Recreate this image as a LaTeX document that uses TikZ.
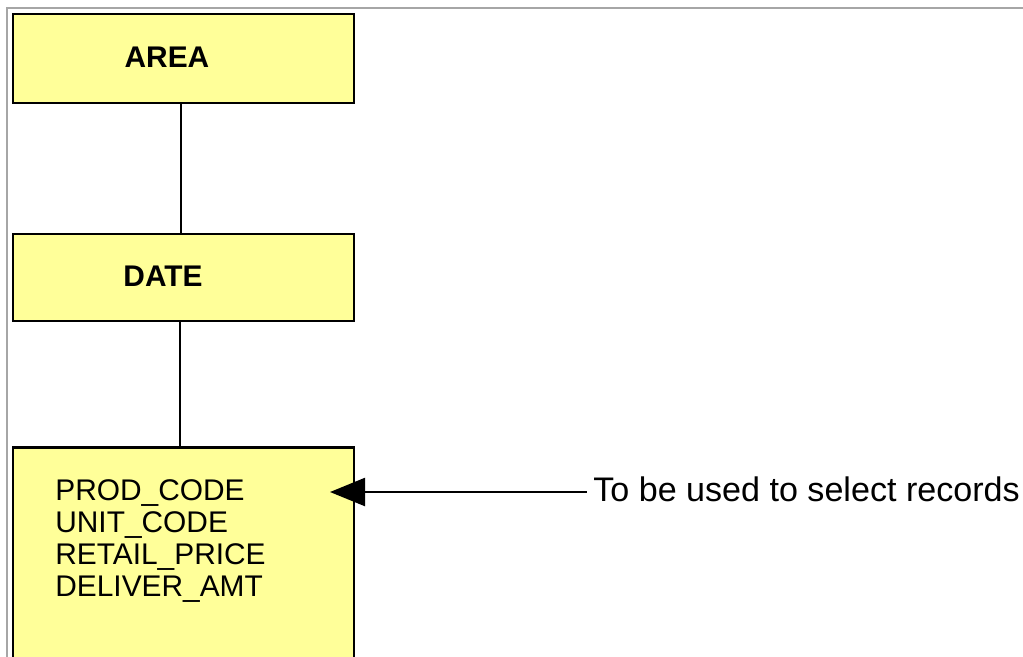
\documentclass[tikz,border=0pt]{standalone}
\usepackage{fontspec}
\setmainfont{Liberation Sans}
\usetikzlibrary{arrows.meta}
\definecolor{paleyellow}{RGB}{255,255,153}
\tikzset{
  entity/.style={draw, line width=1.6pt, fill=paleyellow, minimum width=6.82cm},
  title/.style={font=\fontsize{17}{19}\selectfont\bfseries},
  link/.style={line width=1.3pt},
}
\begin{document}
\begin{tikzpicture}
        % Рамка и область рисунка
        \clip (0,0) rectangle (20.46,-13.12);
        \draw[gray!70, line width=1.2pt] (0.14,-13.2) -- (0.14,-0.16) -- (20.6,-0.16);

        % Сущности
        \node[entity, title, minimum height=1.78cm] (area) at (3.67,-1.17) {\raisebox{0.06cm}{AREA}\hspace*{0.66cm}};
        \node[entity, title, minimum height=1.74cm] (date) at (3.67,-5.55) {\raisebox{0.04cm}{DATE}\hspace*{0.82cm}};
        \node[entity, minimum height=4.8cm, anchor=north] (fact) at (3.67,-8.92) {};

        % Поля
        \node[anchor=north west, align=left, inner sep=0pt, font=\fontsize{17}{18.2}\selectfont] (fields) at (1.1,-9.58)
            {PROD\_CODE\\UNIT\_CODE\\RETAIL\_PRICE\\DELIVER\_AMT};

        % Связи
        \draw[link] ([xshift=-0.05cm]area.south) -- ([xshift=-0.05cm]date.north);
        \draw[link] ([xshift=-0.07cm]date.south) -- ([xshift=-0.07cm]fact.north);

        % Примечание со стрелкой
        \coordinate (tip) at (6.6,-9.84);
        \node[anchor=west, inner sep=0.13cm, font=\fontsize{19.4}{22}\selectfont] (note) at (11.73,-9.78) {To be used to select records};
        \draw[link, -{Triangle[length=20pt,width=16pt]}] (note.west |- tip) -- (tip);
\end{tikzpicture}
\end{document}
